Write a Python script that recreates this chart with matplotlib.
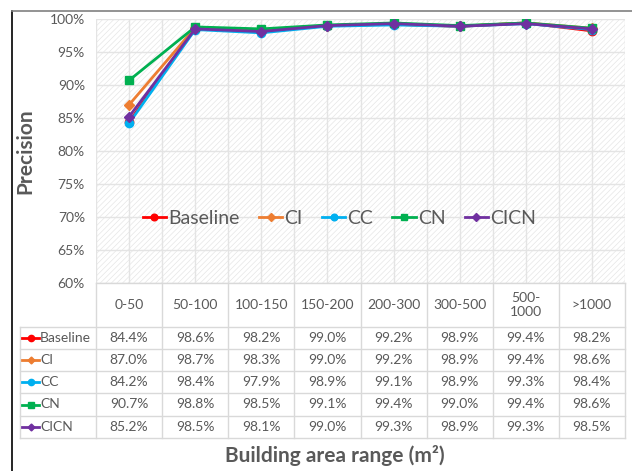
import matplotlib
matplotlib.use("Agg")
import matplotlib.pyplot as plt
from matplotlib.lines import Line2D
from matplotlib.patches import Rectangle

plt.rcParams['font.family'] = ['Lato', 'DejaVu Sans']
plt.rcParams['hatch.linewidth'] = 0.5

categories = ["0-50", "50-100", "100-150", "150-200", "200-300", "300-500", "500-\n1000", ">1000"]
series_names = ["Baseline", "CI", "CC", "CN", "CICN"]
baseline = [84.4, 98.6, 98.2, 99.0, 99.2, 98.9, 99.4, 98.2]
ci = [87.0, 98.7, 98.3, 99.0, 99.2, 98.9, 99.4, 98.6]
cc = [84.2, 98.4, 97.9, 98.9, 99.1, 98.9, 99.3, 98.4]
cn = [90.7, 98.8, 98.5, 99.1, 99.4, 99.0, 99.4, 98.6]
cicn = [85.2, 98.5, 98.1, 99.0, 99.3, 98.9, 99.3, 98.5]
yticks = [60, 65, 70, 75, 80, 85, 90, 95, 100]

series = [baseline, ci, cc, cn, cicn]
colors = ["#FF0000", "#ED7D31", "#00B0F0", "#00B050", "#7030A0"]
markers = ["o", "D", "o", "s", "D"]
msizes = [6, 5, 6, 6, 5]
gray = "#595959"
W, H = 632, 471

fig = plt.figure(figsize=(W / 100, H / 100), dpi=100)

# chart area
ax = fig.add_axes([96 / W, 1 - 283 / H, 529 / W, 264 / H])
ax.add_patch(Rectangle((0, 0), 1, 1, transform=ax.transAxes, facecolor="white",
                       edgecolor="#e6e6e6", hatch="//////", lw=0, zorder=0))
x = list(range(len(categories)))
for vals, name, c, m, ms in zip(series, series_names, colors, markers, msizes):
    ax.plot(x, vals, color=c, marker=m, markersize=ms, lw=2, label=name, zorder=3)
ax.set_xlim(-0.5, len(categories) - 0.5)
ax.set_ylim(60, 100)
ax.set_yticks(yticks)
ax.set_yticklabels([f"{v}%" for v in yticks], color=gray, fontsize=10)
ax.set_xticks([i * 0.5 - 0.5 for i in range(2 * len(categories) + 1)])
ax.set_xticklabels([])
ax.tick_params(length=0, pad=8)
ax.grid(True, color="#e4e4e4", lw=1, zorder=1)
for s in ax.spines.values():
    s.set_visible(False)
ax.set_ylabel("Precision", fontsize=15, fontweight="bold", color=gray, labelpad=10)
leg = ax.legend(loc="center", bbox_to_anchor=(0.46, 0.245), ncol=5, frameon=False,
                fontsize=14, handlelength=1.2, handletextpad=0.1, columnspacing=1.0,
                labelcolor=gray, markerscale=0.8)

# data table under the chart
tx = fig.add_axes([0, 0, 1, 1], facecolor="none")
tx.set_xlim(0, W)
tx.set_ylim(H, 0)
tx.axis("off")
lc = "#d9d9d9"
col_w = 529 / len(categories)
col_edges = [96 + i * col_w for i in range(len(categories) + 1)]
row_edges = [327, 349, 371, 393, 416, 438]
for xe in col_edges:
    tx.plot([xe, xe], [283, 438], color=lc, lw=1)
tx.plot([20, 20], [327, 438], color=lc, lw=1)
tx.plot([96, 625], [283, 283], color=lc, lw=1)
for ye in row_edges:
    tx.plot([20, 625], [ye, ye], color=lc, lw=1)
for i, cat in enumerate(categories):
    tx.text(96 + (i + 0.5) * col_w, 305, cat, ha="center", va="center",
            fontsize=10, color=gray, linespacing=1.3)
for r, (vals, name, c, m, ms) in enumerate(zip(series, series_names, colors, markers, msizes)):
    yc = (row_edges[r] + row_edges[r + 1]) / 2
    tx.add_line(Line2D([22, 39], [yc, yc], color=c, lw=2))
    tx.add_line(Line2D([30.5], [yc], color=c, marker=m, markersize=ms - 1.5))
    tx.text(40, yc, name, ha="left", va="center", fontsize=10, color=gray)
    for i, v in enumerate(vals):
        tx.text(96 + (i + 0.5) * col_w, yc, f"{v:.1f}%", ha="center", va="center",
                fontsize=10, color=gray)

tx.text(335, 456, "Building area range (m\u00b2)", ha="center", va="center",
        fontsize=15, fontweight="bold", color=gray)

# frame lines
tx.plot([12, 12], [11, H], color="black", lw=1.2)
tx.plot([12, W], [11, 11], color="#808080", lw=1.2)

fig.savefig("out.png", dpi=100)
